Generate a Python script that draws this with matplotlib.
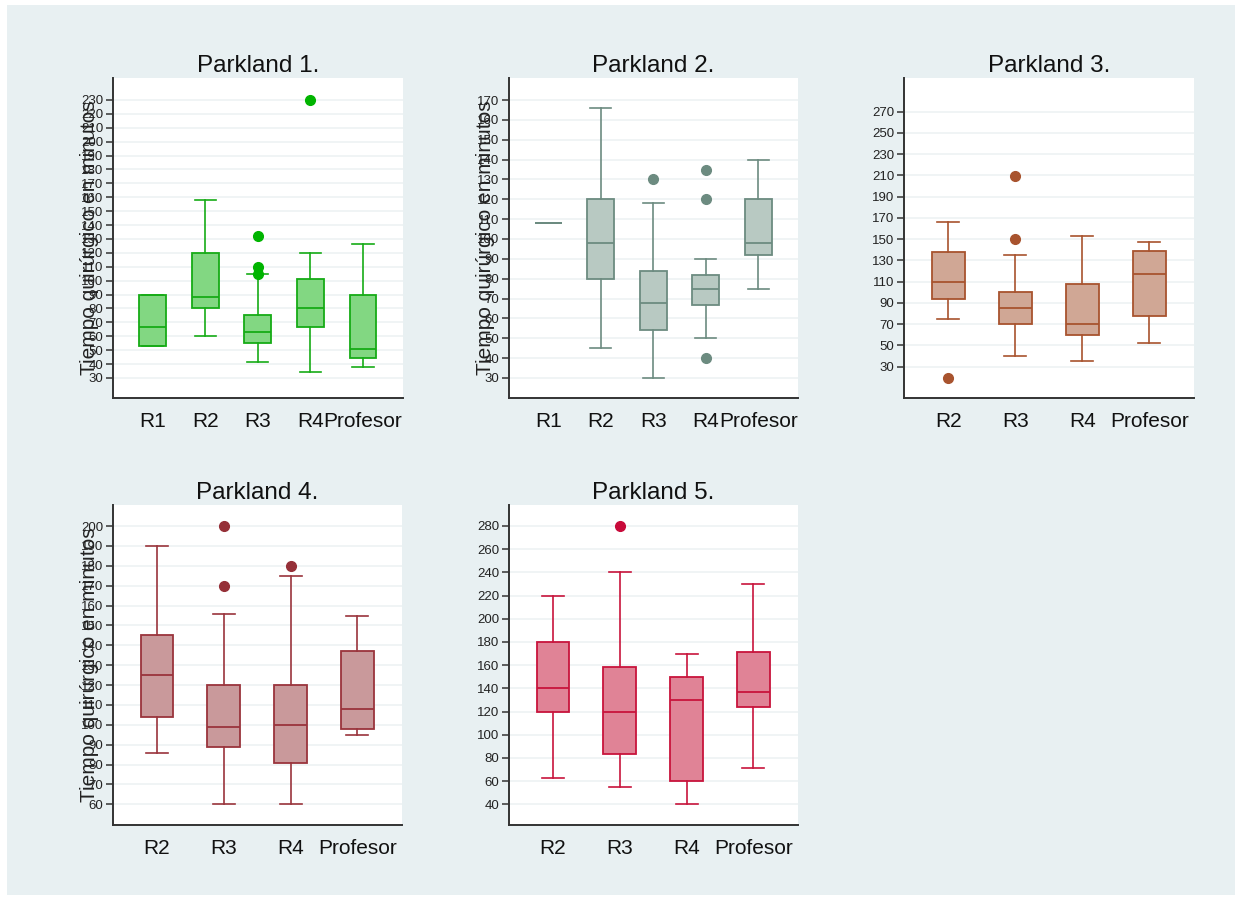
import matplotlib
matplotlib.use("Agg")
import matplotlib.pyplot as plt
from matplotlib.patches import Rectangle

plt.rcParams['font.family'] = ['Liberation Sans', 'DejaVu Sans']

# ---- data: box-plot summaries (minutes) per Parkland grade ----
cats5 = ['R1', 'R2', 'R3', 'R4', 'Profesor']
cats4 = ['R2', 'R3', 'R4', 'Profesor']

p1_whislo = [53, 60, 41.5, 34, 38]
p1_q1 = [53, 80, 55, 67, 44.5]
p1_med = [67, 88, 63, 80, 50.5]
p1_q3 = [90, 120, 75, 101, 90]
p1_whishi = [90, 158, 105, 120, 126.5]
p1_fliers = [[], [], [132, 110, 104.5], [230], []]

p2_whislo = [108, 45, 30, 50, 75]
p2_q1 = [108, 80, 54, 67, 92]
p2_med = [108, 98, 68, 75, 98]
p2_q3 = [108, 120, 84, 82, 120]
p2_whishi = [108, 166, 118, 90, 140]
p2_fliers = [[], [], [130], [135, 120, 40], []]

p3_whislo = [75, 40, 35, 52]
p3_q1 = [94, 70, 60, 78]
p3_med = [110, 85, 70, 117]
p3_q3 = [138, 100, 108, 139]
p3_whishi = [166, 135, 153, 147]
p3_fliers = [[19], [209, 150], [], []]

p4_whislo = [86, 60, 60, 95]
p4_q1 = [104, 89, 81, 98]
p4_med = [125, 99, 100, 108]
p4_q3 = [145, 120, 120, 137]
p4_whishi = [190, 156, 175, 155]
p4_fliers = [[], [200, 170], [180], []]

p5_whislo = [63, 55, 40, 71]
p5_q1 = [120, 83, 60, 124]
p5_med = [140, 120, 130, 137]
p5_q3 = [180, 158, 150, 171]
p5_whishi = [220, 240, 170, 230]
p5_fliers = [[], [280], [], []]

titles = ['Parkland 1.', 'Parkland 2.', 'Parkland 3.', 'Parkland 4.', 'Parkland 5.']
ylabel = 'Tiempo quirúrgico en minutos'

W, H = 1240, 897
fig = plt.figure(figsize=(W / 100, H / 100), dpi=100, facecolor='white')
fig.patches.append(Rectangle((7 / W, 2 / H), 1228 / W, 890 / H,
                             transform=fig.transFigure, facecolor='#e8f0f2',
                             edgecolor='none', zorder=-10))


def px_rect(left, top, right, bottom):
    return [left / W, 1 - bottom / H, (right - left) / W, (bottom - top) / H]


panels = [
    dict(rect=px_rect(113, 78, 403, 398), cats=cats5,
         stats=(p1_whislo, p1_q1, p1_med, p1_q3, p1_whishi, p1_fliers),
         ylim=(15.6, 245.8), ticks=range(30, 231, 10), xlim=(0.25, 5.76),
         width=0.51, cap=0.40, edge='#16ab16', face='#82d782', flier='#00b400',
         ylab=True),
    dict(rect=px_rect(509, 78, 798, 398), cats=cats5,
         stats=(p2_whislo, p2_q1, p2_med, p2_q3, p2_whishi, p2_fliers),
         ylim=(19.9, 181.1), ticks=range(30, 171, 10), xlim=(0.25, 5.76),
         width=0.51, cap=0.40, edge='#6c8b80', face='#b8c9c2', flier='#6c8b80',
         ylab=True),
    dict(rect=px_rect(904, 78, 1194, 398), cats=cats4,
         stats=(p3_whislo, p3_q1, p3_med, p3_q3, p3_whishi, p3_fliers),
         ylim=(0.5, 301.7), ticks=range(30, 271, 20), xlim=(0.34, 4.67),
         width=0.49, cap=0.33, edge='#a8532e', face='#d0a795', flier='#a8532e',
         ylab=False),
    dict(rect=px_rect(113, 505, 402, 825), cats=cats4,
         stats=(p4_whislo, p4_q1, p4_med, p4_q3, p4_whishi, p4_fliers),
         ylim=(49.6, 210.6), ticks=range(60, 201, 10), xlim=(0.34, 4.67),
         width=0.49, cap=0.33, edge='#9a343c', face='#c9999b', flier='#953038',
         ylab=True),
    dict(rect=px_rect(509, 505, 798, 825), cats=cats4,
         stats=(p5_whislo, p5_q1, p5_med, p5_q3, p5_whishi, p5_fliers),
         ylim=(22.2, 298.1), ticks=range(40, 281, 20), xlim=(0.34, 4.67),
         width=0.49, cap=0.33, edge='#c8143c', face='#e08396', flier='#c80a3a',
         ylab=False),
]

for title, p in zip(titles, panels):
    ax = fig.add_axes(p['rect'])
    ax.set_facecolor('white')
    lo, q1, med, q3, hi, fl = p['stats']
    stats = [dict(whislo=a, q1=b, med=c, q3=d, whishi=e, fliers=f)
             for a, b, c, d, e, f in zip(lo, q1, med, q3, hi, fl)]
    pos = list(range(1, len(p['cats']) + 1))
    ax.bxp(stats, positions=pos, widths=p['width'],
           capwidths=p['cap'], patch_artist=True, manage_ticks=False,
           showfliers=True,
           boxprops=dict(facecolor=p['face'], edgecolor=p['edge'], linewidth=1.3),
           medianprops=dict(color=p['edge'], linewidth=1.3),
           whiskerprops=dict(color=p['edge'], linewidth=1.2),
           capprops=dict(color=p['edge'], linewidth=1.2),
           flierprops=dict(marker='o', markerfacecolor=p['flier'],
                           markeredgecolor=p['flier'], markersize=7))
    ax.set_xlim(*p['xlim'])
    ax.set_ylim(*p['ylim'])
    ax.set_xticks(pos)
    ax.set_xticklabels(p['cats'], fontsize=15, color='#111111')
    ax.set_yticks(list(p['ticks']))
    ax.tick_params(axis='x', length=0, pad=10)
    ax.tick_params(axis='y', length=5, width=1.1, color='#333333', pad=2,
                   labelsize=9.5, labelcolor='#222222')
    ax.yaxis.grid(True, color='#edf2f4', linewidth=1.2)
    ax.set_axisbelow(True)
    for s in ('top', 'right'):
        ax.spines[s].set_visible(False)
    for s in ('left', 'bottom'):
        ax.spines[s].set_color('#333333')
        ax.spines[s].set_linewidth(1.4)
    ax.set_title(title, fontsize=17.5, pad=4, color='#111111')
    if p['ylab']:
        ax.set_ylabel(ylabel, fontsize=15, color='#222222')
        ax.yaxis.label.set_va('center')
        ax.yaxis.set_label_coords(-0.08, 0.5)

fig.savefig('out.png', dpi=100, facecolor='white')
